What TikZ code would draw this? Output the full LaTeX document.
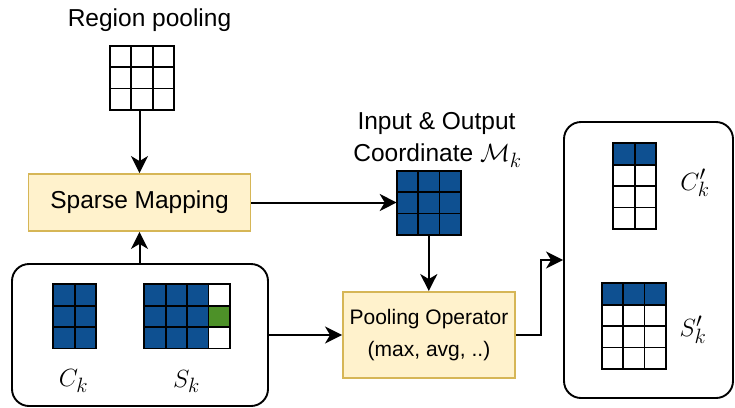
\documentclass[tikz,border=0pt]{standalone}
\usepackage{fontspec}
\setmainfont{Liberation Sans}
\usetikzlibrary{arrows.meta,calc}
\definecolor{cblue}{RGB}{14,80,145}
\definecolor{cgreen}{RGB}{77,145,40}
\definecolor{yfill}{HTML}{FFF2CC}
\definecolor{ystroke}{HTML}{D6B656}
\newcommand\cs{21.4}
\newcommand\gridfill[5]{%
  \fill[#5] (#1,#2) rectangle ++({#3*\cs},{#4*\cs});}
\newcommand\gridlines[4]{%
  \foreach \ca in {1,...,#3}{\foreach \cb in {1,...,#4}{%
    \draw[cell] ({#1+(\ca-1)*\cs},{#2+(\cb-1)*\cs}) rectangle ++(\cs,\cs);}}}
\begin{document}
\begin{tikzpicture}[x=1pt,y=-1pt,
  cell/.style={line width=1.9pt,draw=black,line join=miter},
  gridbox/.style={inner sep=0pt,outer sep=0pt,draw=none,anchor=north west},
  procbox/.style={draw=ystroke,fill=yfill,line width=1.9pt,inner sep=0pt,align=center},
  roundbox/.style={draw=black,line width=1.9pt,rounded corners=17pt,inner sep=0pt},
  conn/.style={line width=2pt,-{Stealth[length=17pt,width=17pt,inset=5pt]}},
  lbl/.style={font=\fontsize{24.5}{32.5}\selectfont,inner sep=0pt},
  mlbl/.style={font=\fontsize{29}{32}\selectfont,inner sep=0pt,anchor=base}]
\useasboundingbox (0,0) rectangle (735,407);

% boxes
\node[roundbox,minimum width=256pt,minimum height=142pt] (bl) at (140,335) {};
\node[roundbox,minimum width=169pt,minimum height=276pt] (rb) at (648.5,260) {};
\node[procbox,minimum width=222pt,minimum height=57pt,font=\fontsize{24.5}{30}\selectfont] (sm) at (139.5,202.5) {Sparse Mapping};
\node[procbox,minimum width=172pt,minimum height=86pt,font=\fontsize{21}{32.5}\selectfont] (po) at (429,335) {\raisebox{-3pt}{Pooling Operator}\\\raisebox{-3pt}{(max, avg, ..)}};

% grids
\node[gridbox,minimum width=64.2pt,minimum height=64.2pt] (rp) at (110,45.7) {};
\gridfill{110}{45.7}{3}{3}{white}
\gridlines{110}{45.7}{3}{3}
\node[gridbox,minimum width=42.8pt,minimum height=64.2pt] (ck) at (53.3,284.3) {};
\gridfill{53.3}{284.3}{2}{3}{cblue}
\gridlines{53.3}{284.3}{2}{3}
\node[gridbox,minimum width=85.6pt,minimum height=64.2pt] (sk) at (144.3,284.3) {};
\gridfill{144.3}{284.3}{3}{3}{cblue}
\gridfill{208.5}{284.3}{1}{3}{white}
\gridfill{208.5}{305.7}{1}{1}{cgreen}
\gridlines{144.3}{284.3}{4}{3}
\node[gridbox,minimum width=64.2pt,minimum height=64.2pt] (mk) at (396.7,170.7) {};
\gridfill{396.7}{170.7}{3}{3}{cblue}
\gridlines{396.7}{170.7}{3}{3}
\node[gridbox,minimum width=42.8pt,minimum height=85.6pt] (cpk) at (613.3,143.3) {};
\gridfill{613.3}{143.3}{2}{4}{white}
\gridfill{613.3}{143.3}{2}{1}{cblue}
\gridlines{613.3}{143.3}{2}{4}
\node[gridbox,minimum width=64.2pt,minimum height=85.6pt] (spk) at (601.7,283.3) {};
\gridfill{601.7}{283.3}{3}{4}{white}
\gridfill{601.7}{283.3}{3}{1}{cblue}
\gridlines{601.7}{283.3}{3}{4}

% labels
\node[lbl,anchor=base] (rpl) at (149.5,26) {Region pooling};
\node[lbl,anchor=base] (iol) at (436.5,129) {Input \& Output};
\node[lbl,anchor=base] (col) at (437.5,161.7) {Coordinate {\fontsize{28}{32}\selectfont$\mathcal{M}_k$}};
\node[mlbl] (ckl) at (73.5,386.7) {$C_k$};
\node[mlbl] (skl) at (186.5,387) {$S_k$};
\node[mlbl] (cpkl) at (695,190) {$C'_k$};
\node[mlbl] (spkl) at (693,336.5) {$S'_k$};

% connectors
\draw[conn] (sm.north |- rp.south) -- (sm.north);
\draw[conn] (sm.south |- bl.north) -- (sm.south);
\draw[conn] (sm.east) -- (mk.west |- sm.east);
\draw[conn] (po.north -| mk.south) ++(0,-57) -- (po.north -| mk.south);
\draw[conn] (bl.east) -- (po.west);
\draw[conn] (po.east) -- ++(25,0) |- (rb.west);
\end{tikzpicture}
\end{document}
